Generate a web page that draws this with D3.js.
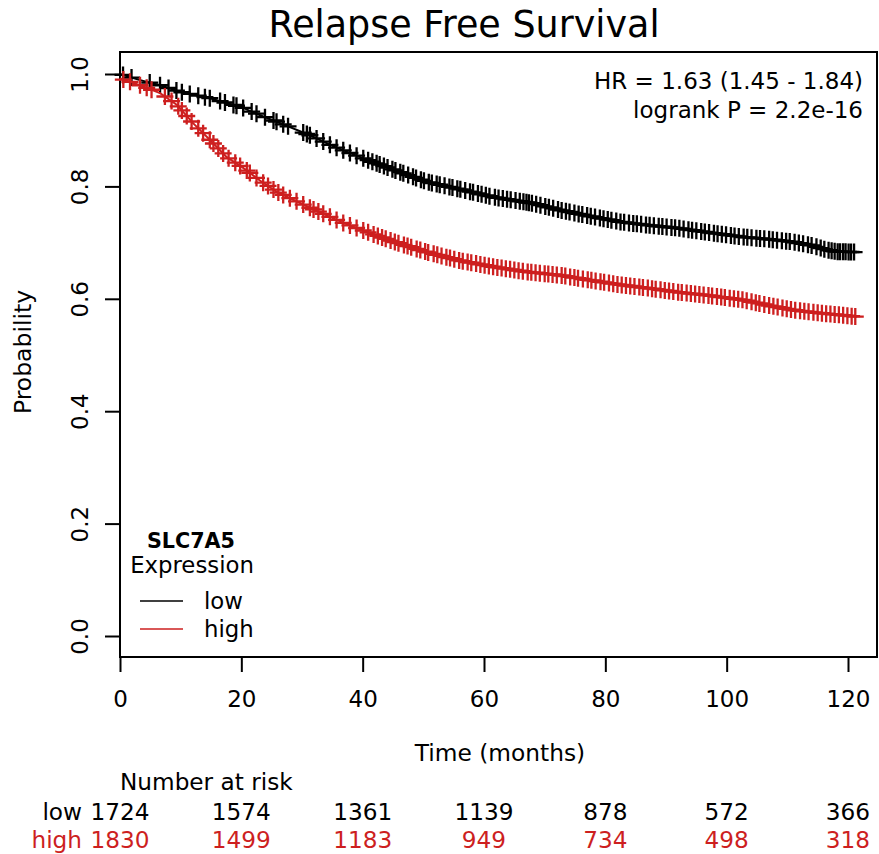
<!DOCTYPE html>
<html>
<head>
<meta charset="utf-8">
<script src="https://cdn.jsdelivr.net/npm/d3@7"></script>
<style>
  body { margin: 0; background: #fff; }
  text { font-family: "DejaVu Sans", sans-serif; }
</style>
</head>
<body>
<script>
// survival curves (months, probability)
var lowTimes = [0, 3, 6.6, 10, 14.8, 20, 23, 27, 31.3, 35, 39.6, 45, 50.6, 56, 61.5, 68, 72.5, 77, 82.4, 87, 91.8, 97, 102.7, 107, 111, 114, 116.5, 118, 121.5];
var lowSurv = [1.0, 0.99, 0.980, 0.968, 0.957, 0.941, 0.927, 0.910, 0.891, 0.872, 0.852, 0.830, 0.808, 0.795, 0.781, 0.770, 0.758, 0.748, 0.737, 0.731, 0.726, 0.718, 0.710, 0.706, 0.701, 0.695, 0.687, 0.684, 0.683];

var highTimes = [0, 3.3, 6.6, 9.4, 12, 14.8, 17.6, 20.3, 23, 25.9, 31.3, 36.8, 41.2, 45, 50.6, 56, 61.5, 67, 72.5, 77, 82.4, 87, 91.8, 97, 102.7, 107, 111, 115, 119, 121.5];
var highSurv = [0.992, 0.980, 0.966, 0.945, 0.913, 0.883, 0.852, 0.833, 0.811, 0.790, 0.762, 0.735, 0.717, 0.702, 0.683, 0.668, 0.657, 0.648, 0.642, 0.634, 0.625, 0.619, 0.612, 0.606, 0.598, 0.588, 0.580, 0.575, 0.571, 0.568];

// censoring times
var lowCensor = [0.5, 1.9, 4.9, 6.6, 8, 9.3, 10.2, 11.5, 12.9, 14, 14.8, 16.5, 17.3, 18.7, 19.2, 20.3, 21.7, 22.5, 23.9, 25.3, 25.8, 26.9, 27.7, 30.2, 30.8, 31.3, 32.4, 33.5, 34.6, 35.7, 36.8, 37.9, 39, 40.1, 40.9,
  41.6, 42.3, 42.8, 43.5, 44.1, 44.9, 45.4, 46.2, 46.7, 47.5, 48.3, 48.8, 49.6, 50.1, 50.9, 51.4, 52.2, 52.7, 53.5, 54.3, 54.8, 55.6, 56.1, 56.9, 57.7, 58.2, 59.0, 59.6, 60.3, 60.9, 61.8, 62.4, 63.1, 63.8, 64.4, 65.2, 65.9, 66.5, 67.0, 67.4, 67.9, 68.6, 69.3, 70.1, 70.7, 71.4, 72.2, 72.8, 73.5, 74.1, 74.9, 75.6, 76.2, 77.0, 77.6, 78.3, 79.1, 79.7, 80.4, 81.0, 81.8, 82.5, 83.1, 83.9, 84.6, 85.2, 85.9, 86.7, 87.3, 88.0, 88.8, 89.4, 90.1, 90.9, 91.5, 92.2, 92.9, 93.7, 94.3, 95.0, 95.8, 96.4, 97.1, 97.9, 98.5, 99.2, 99.9, 100.7, 101.3, 102.0, 102.8, 103.4, 104.1, 104.9, 105.5, 106.2, 107.0, 107.6, 108.3, 109.1, 109.8, 110.4, 111.2, 111.9, 112.6, 113.4, 114.0, 114.8, 115.5, 116.1, 116.8, 117.3, 117.8, 118.3, 118.7, 119.2, 119.6, 120.1, 120.5, 121.0];
var highCensor = [0.55, 1.65, 3.3, 4.4, 5.2, 7.4, 8.5, 9.6, 10.2, 11, 11.8, 12.9, 13.7, 14.8, 15.4, 16.2, 17, 17.9, 19, 19.8, 20.9, 21.4, 22.5, 23.6, 24.4, 25.3, 26.1, 26.9, 28, 29.1, 30.2, 31.3, 31.9, 32.7, 33.5, 34.6, 35.7, 36.8, 37.9, 39, 40.1, 40.9,
  41.8, 42.5, 43.2, 43.8, 44.6, 45.3, 45.9, 46.8, 47.4, 48.0, 48.9, 49.5, 50.3, 50.8, 51.7, 52.3, 53.0, 53.8, 54.4, 55.1, 55.9, 56.5, 57.3, 57.9, 58.7, 59.4, 60.1, 60.8, 61.5, 62.2, 62.9, 63.6, 64.3, 65.0, 65.7, 66.4, 67.2, 67.8, 68.5, 69.2, 70.0, 70.6, 71.3, 72.0, 72.8, 73.4, 74.2, 74.9, 75.5, 76.3, 77.1, 77.7, 78.4, 79.2, 79.8, 80.6, 81.3, 82.0, 82.7, 83.4, 84.1, 84.8, 85.6, 86.2, 87.0, 87.7, 88.3, 89.1, 89.8, 90.5, 91.2, 92.0, 92.6, 93.4, 94.1, 94.8, 95.5, 96.2, 97.0, 97.6, 98.4, 99.1, 99.7, 100.5, 101.2, 101.9, 102.6, 103.3, 104.1, 104.8, 105.4, 106.2, 107.0, 107.7, 108.4, 109.2, 109.9, 110.6, 111.3, 112.1, 112.8, 113.5, 114.3, 115.0, 115.7, 116.4, 117.1, 117.8, 118.5, 119.2, 119.9, 120.6, 121.2];

var xTicks = [0, 20, 40, 60, 80, 100, 120];
var yTicks = [0.0, 0.2, 0.4, 0.6, 0.8, 1.0];
var riskLow = [1724, 1574, 1361, 1139, 878, 572, 366];
var riskHigh = [1830, 1499, 1183, 949, 734, 498, 318];

var red = "#cd1f1f";

var width = 879, height = 854;
var box = { left: 120, right: 877, top: 52, bottom: 657 };

var svg = d3.select("body").append("svg")
    .attr("width", width)
    .attr("height", height);

// scales
var xScale = d3.scaleLinear().domain([0, 120]).range([120, 848]);
var yScale = d3.scaleLinear().domain([0, 1]).range([636, 74]);

// plot frame
svg.append("rect")
    .attr("x", box.left).attr("y", box.top)
    .attr("width", box.right - box.left).attr("height", box.bottom - box.top)
    .attr("fill", "none").attr("stroke", "black").attr("stroke-width", 2);

// axes
var xAxis = svg.append("g")
    .attr("transform", "translate(0," + box.bottom + ")")
    .call(d3.axisBottom(xScale).tickValues(xTicks).tickSize(15).tickPadding(19).tickFormat(d3.format("d")));
var yAxis = svg.append("g")
    .attr("transform", "translate(" + box.left + ",0)")
    .call(d3.axisLeft(yScale).tickValues(yTicks).tickSize(15).tickFormat(d3.format(".1f")));
[xAxis, yAxis].forEach(function (g) {
    g.select(".domain").remove();
    g.selectAll(".tick line").attr("stroke-width", 2);
    g.selectAll("text").attr("font-size", 23).attr("fill", "black")
        .style("font-family", "DejaVu Sans, sans-serif");
});
yAxis.selectAll(".tick text")
    .attr("x", null).attr("dy", null)
    .attr("text-anchor", "middle")
    .attr("transform", "translate(-32,0) rotate(-90)");

// curves
function drawGroup(times, surv, censor, color) {
    var pts = times.map(function (t, i) { return [t, surv[i]]; });
    svg.append("path")
        .datum(pts)
        .attr("fill", "none")
        .attr("stroke", color)
        .attr("stroke-width", 2)
        .attr("d", d3.line()
            .x(function (d) { return xScale(d[0]); })
            .y(function (d) { return yScale(d[1]); }));

    var survAt = d3.scaleLinear().domain(times).range(surv);
    var s = 8.5;
    svg.append("g").selectAll("path")
        .data(censor)
        .enter().append("path")
        .attr("fill", "none")
        .attr("stroke", color)
        .attr("stroke-width", 2.3)
        .attr("d", function (t) {
            var x = xScale(t), y = yScale(survAt(t));
            return "M" + (x - s) + "," + y + "H" + (x + s) + "M" + x + "," + (y - s) + "V" + (y + s);
        });
}
drawGroup(lowTimes, lowSurv, lowCensor, "black");
drawGroup(highTimes, highSurv, highCensor, red);

// title
svg.append("text")
    .attr("x", 464).attr("y", 37)
    .attr("text-anchor", "middle")
    .attr("font-size", 36.5)
    .text("Relapse Free Survival");

// y label
svg.append("text")
    .attr("transform", "translate(31,352) rotate(-90)")
    .attr("text-anchor", "middle")
    .attr("font-size", 23.5)
    .text("Probability");

// x label
svg.append("text")
    .attr("x", 500).attr("y", 761)
    .attr("text-anchor", "middle")
    .attr("font-size", 23.3)
    .text("Time (months)");

// HR annotation
svg.append("text")
    .attr("x", 863).attr("y", 89)
    .attr("text-anchor", "end")
    .attr("font-size", 23)
    .text("HR = 1.63 (1.45 - 1.84)");
svg.append("text")
    .attr("x", 863).attr("y", 118)
    .attr("text-anchor", "end")
    .attr("font-size", 23)
    .text("logrank P = 2.2e-16");

// legend
svg.append("text")
    .attr("x", 191).attr("y", 548)
    .attr("text-anchor", "middle")
    .attr("font-size", 20.7)
    .attr("font-weight", "bold")
    .text("SLC7A5");
svg.append("text")
    .attr("x", 192).attr("y", 573)
    .attr("text-anchor", "middle")
    .attr("font-size", 22.8)
    .text("Expression");
var legend = [{ label: "low", color: "black", y: 601 }, { label: "high", color: red, y: 629 }];
legend.forEach(function (d) {
    svg.append("line")
        .attr("x1", 140).attr("x2", 183)
        .attr("y1", d.y).attr("y2", d.y)
        .attr("stroke", d.color).attr("stroke-width", 1.5);
    svg.append("text")
        .attr("x", 204).attr("y", d.y + 8)
        .attr("font-size", 22.8)
        .text(d.label);
});

// number at risk table
svg.append("text")
    .attr("x", 120).attr("y", 790)
    .attr("font-size", 23.2)
    .text("Number at risk");

function riskRow(label, values, color, y) {
    svg.append("text")
        .attr("x", 82).attr("y", y)
        .attr("text-anchor", "end")
        .attr("font-size", 23.2)
        .attr("fill", color)
        .text(label);
    svg.append("g").selectAll("text")
        .data(values)
        .enter().append("text")
        .attr("x", function (d, i) { return xScale(xTicks[i]); })
        .attr("y", y)
        .attr("text-anchor", "middle")
        .attr("font-size", 23.2)
        .attr("fill", color)
        .text(function (d) { return d; });
}
riskRow("low", riskLow, "black", 820);
riskRow("high", riskHigh, red, 848);
</script>
</body>
</html>
